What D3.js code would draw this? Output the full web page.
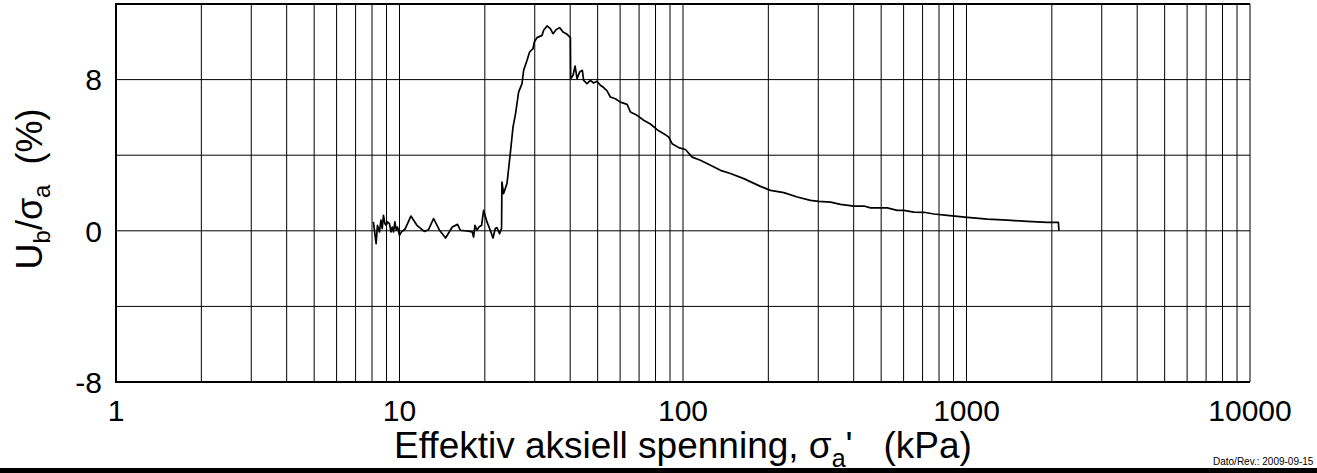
<!DOCTYPE html>
<html>
<head>
<meta charset="utf-8">
<script src="https://cdn.jsdelivr.net/npm/d3@7"></script>
<style>
  body { margin: 0; background: #fff; }
  text { font-family: "Liberation Sans", Arial, sans-serif; fill: #000; }
</style>
</head>
<body>
<script>
// Effective axial stress (kPa) vs. pore pressure ratio Ub/sigma_a (%)

// Data
var stressKPa = [8.09, 8.27, 8.36, 8.50, 8.60, 8.69, 8.78, 8.88, 8.98, 9.07,
    9.22, 9.33, 9.43, 9.53, 9.63, 9.74, 9.84, 10.0, 10.16, 10.45,
    10.97, 11.52, 12.23, 12.66, 13.19, 13.84, 14.54, 15.35, 16.02, 16.38,
    17.30, 18.06, 18.25, 18.46, 18.76, 19.07, 19.48, 19.80, 20.35, 20.90,
    21.37, 21.77, 22.07, 22.54, 22.91,
    22.98, 23.29, 23.94, 24.59, 25.14, 25.67, 26.31, 27.05, 27.41, 28.18,
    28.77, 29.58, 29.89, 30.55, 31.82, 32.24, 33.14, 34.04, 34.79, 35.74,
    36.71, 37.74, 38.77, 40.06, 40.16, 40.94, 41.62, 42.29, 43.20, 44.16,
    44.62, 45.87, 47.12, 48.40, 49.75, 51.10, 52.50, 53.97, 55.43, 57.73,
    60.13, 63.50, 65.23, 68.87, 72.66, 76.74, 81.04, 85.50, 89.05, 91.54,
    96.58, 102.0, 107.7, 115.2, 125.0, 135.6, 147.0, 163.8, 187.6, 203.5,
    226.8, 252.9, 281.6, 301.3, 331.4, 359.4, 400.5, 434.5, 458.7, 525.5,
    569.8, 601.2, 652.2, 707.5, 767.4, 855.7, 1007, 1184, 1394, 1639,
    1929, 2109, 2119];

var ratioPct = [0.47, -0.68, 0.29, -0.06, 0.56, 0.12, 0.82, 0.38, 0.29, 0.47,
    0.38, -0.06, 0.20, -0.06, 0.47, 0.03, 0.20, -0.24, -0.06, 0.08,
    0.78, 0.29, -0.03, 0.06, 0.65, 0.03, -0.38, 0.20, 0.34, 0.03,
    -0.01, -0.06, -0.33, 0.29, 0.03, 0.20, 0.29, 1.08, 0.47, 0.03,
    -0.38, 0.12, 0.17, -0.15, 0.13,
    2.58, 1.97, 2.50, 4.08, 5.49, 6.20, 7.34, 7.79, 8.49, 9.02,
    9.46, 9.64, 9.99, 10.22, 10.34, 10.61, 10.84, 10.70, 10.43, 10.65,
    10.75, 10.52, 10.43, 10.22, 8.05, 8.23, 8.72, 8.05, 8.40, 8.49,
    7.96, 7.79, 7.96, 7.82, 7.91, 7.70, 7.58, 7.40, 7.08, 6.99,
    6.81, 6.69, 6.29, 6.11, 5.85, 5.65, 5.35, 5.14, 4.96, 4.61,
    4.40, 4.30, 3.90, 3.73, 3.47, 3.20, 3.03, 2.76, 2.35, 2.14,
    2.02, 1.79, 1.61, 1.56, 1.52, 1.40, 1.31, 1.31, 1.21, 1.21,
    1.08, 1.08, 0.99, 0.98, 0.89, 0.82, 0.71, 0.62, 0.56, 0.50,
    0.45, 0.45, 0.0];

// Tick labels
var xTicks = [1, 10, 100, 1000, 10000];
var yTicks = [-8, 0, 8];
var yGrid = [-4, 0, 4, 8];

// Set Margins
var margin = { top: 4, right: 67, bottom: 91, left: 116 };
var totalW = 1317, totalH = 473;
var width = totalW - margin.left - margin.right;
var height = totalH - margin.top - margin.bottom;

var svg = d3.select('body').append('svg')
    .attr('width', totalW)
    .attr('height', totalH);

var g = svg.append('g')
    .attr('transform', 'translate(' + margin.left + ',' + margin.top + ')');

// scales
var x = d3.scaleLog().domain([1, 10000]).range([0, width]);
var y = d3.scaleLinear().domain([-8, 12]).range([height, 0]);

// vertical grid: 1..9 per decade
var xGrid = [];
[1, 10, 100, 1000].forEach(function(dec) {
    for (var k = 1; k <= 9; k++) xGrid.push(k * dec);
});
xGrid.push(10000);

g.selectAll('.vgrid')
    .data(xGrid)
    .enter().append('line')
    .attr('class', 'vgrid')
    .attr('x1', function(d) { return x(d); })
    .attr('x2', function(d) { return x(d); })
    .attr('y1', 0)
    .attr('y2', height)
    .attr('stroke', '#000')
    .attr('stroke-width', 1);

g.selectAll('.hgrid')
    .data(yGrid)
    .enter().append('line')
    .attr('class', 'hgrid')
    .attr('x1', 0)
    .attr('x2', width)
    .attr('y1', function(d) { return y(d); })
    .attr('y2', function(d) { return y(d); })
    .attr('stroke', '#000')
    .attr('stroke-width', 1);

// frame (left, top, bottom)
g.append('path')
    .attr('d', 'M' + width + ',0H0V' + height + 'H' + width)
    .attr('fill', 'none')
    .attr('stroke', '#000')
    .attr('stroke-width', 2);

// data line
var pts = stressKPa.map(function(s, i) { return { s: s, v: ratioPct[i] }; });
var line = d3.line()
    .x(function(d) { return x(d.s); })
    .y(function(d) { return y(d.v); });

g.append('path')
    .datum(pts)
    .attr('d', line)
    .attr('fill', 'none')
    .attr('stroke', '#000')
    .attr('stroke-width', 1.7)
    .attr('stroke-linejoin', 'round');

// x tick labels
g.selectAll('.xlab')
    .data(xTicks)
    .enter().append('text')
    .attr('x', function(d) { return x(d); })
    .attr('y', height + 39)
    .attr('text-anchor', 'middle')
    .style('font-size', '30px')
    .text(function(d) { return d; });

// y tick labels
g.selectAll('.ylab')
    .data(yTicks)
    .enter().append('text')
    .attr('x', -14)
    .attr('y', function(d) { return y(d); })
    .attr('dy', '0.36em')
    .attr('text-anchor', 'end')
    .style('font-size', '30px')
    .text(function(d) { return d; });

// x axis title
var xt = svg.append('text')
    .attr('x', margin.left + width / 2)
    .attr('y', 458)
    .attr('text-anchor', 'middle')
    .style('font-size', '37px')
    .style('white-space', 'pre');
xt.append('tspan').text('Effektiv aksiell spenning, \u03c3');
xt.append('tspan').attr('dy', 9).style('font-size', '25px').text('a');
xt.append('tspan').attr('dy', -9).text("'   (kPa)");

// y axis title
var yt = svg.append('text')
    .attr('transform', 'translate(42,' + 189 + ') rotate(-90)')
    .attr('text-anchor', 'middle')
    .style('font-size', '36px')
    .style('white-space', 'pre');
yt.append('tspan').text('U');
yt.append('tspan').attr('dy', 8).style('font-size', '24px').text('b');
yt.append('tspan').attr('dy', -8).text('/\u03c3');
yt.append('tspan').attr('dy', 8).style('font-size', '24px').text('a');
yt.append('tspan').attr('dy', -8).text('  (%)');

// footer
svg.append('rect')
    .attr('x', 0)
    .attr('y', 468)
    .attr('width', totalW)
    .attr('height', 5)
    .attr('fill', '#000');

svg.append('text')
    .attr('x', 1213)
    .attr('y', 465)
    .style('font-size', '10px')
    .text('Dato/Rev.: 2009-09-15');
</script>
</body>
</html>
